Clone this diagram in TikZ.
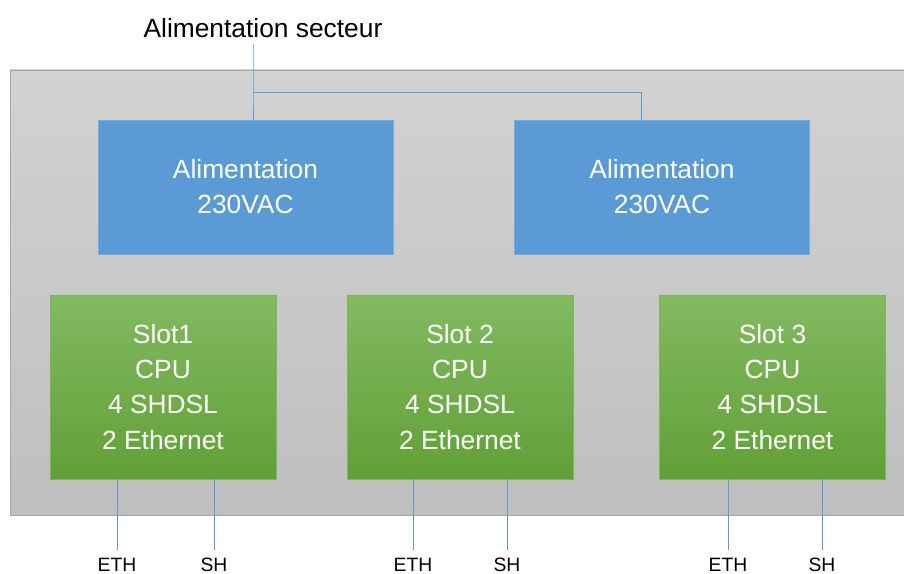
\documentclass[tikz,border=0pt]{standalone}
\usepackage{fontspec}
\setmainfont{Liberation Sans}
\usepackage{tikz}
\usetikzlibrary{positioning, calc}
\definecolor{rackgray}{RGB}{210,210,210}
\definecolor{rackgraydk}{RGB}{191,191,191}
\definecolor{rackedge}{RGB}{166,166,166}
\definecolor{psublue}{RGB}{91,155,213}
\definecolor{psuedge}{RGB}{120,172,222}
\definecolor{slotgreen}{RGB}{131,186,98}
\definecolor{slotgreendk}{RGB}{97,160,54}
\definecolor{slotedge}{RGB}{125,183,90}

\begin{document}
\begin{tikzpicture}[x=0.02cm, y=-0.02cm, font=\fontsize{15}{20}\selectfont,
  psu/.style={draw=psuedge, fill=psublue, text=white, align=center,
    minimum width=5.9cm, minimum height=2.68cm, inner sep=0pt},
  slotbox/.style={draw=slotedge, top color=slotgreen, bottom color=slotgreendk,
    text=white, align=center, minimum width=4.52cm, minimum height=3.68cm, inner sep=0pt},
  portlbl/.style={font=\fontsize{11}{12}\selectfont, inner sep=1pt},
  link/.style={draw=psublue, line width=0.5pt}]
  \useasboundingbox (0,0) rectangle (904,574);
  % rack
  \draw[rackedge, top color=rackgray, bottom color=rackgraydk] (10,70) rectangle (910,515);
  \node (sect) at (263,28) {Alimentation secteur};
  % power supplies
  \node[psu] (a1) at (245.5,187) {Alimentation\\230VAC};
  \node[psu] (a2) at (662,187) {Alimentation\\230VAC};
  \coordinate (split) at (253,92);
  \coordinate (join) at (641,92);
  \draw[link] (sect.south -| split) -- (split) -- (split |- a1.north);
  \draw[link] (split) -- (join) -- (join |- a2.north);
  % slots and their ports
  \foreach \n/\cx/\lbl/\ex/\sx in {
    1/163/Slot1/117/214,
    2/460/Slot 2/413/507,
    3/772.5/Slot 3/728/822
  }{
    \node[slotbox] (s\n) at (\cx,387) {\lbl\\CPU\\4 SHDSL\\2 Ethernet};
    \node[portlbl, anchor=north] (eth\n) at (\ex,556) {ETH};
    \node[portlbl, anchor=north] (sh\n) at (\sx,556) {SH};
    \draw[link] (s\n.south -| eth\n) -- ($(eth\n.north)+(0,-6)$);
    \draw[link] (s\n.south -| sh\n) -- ($(sh\n.north)+(0,-6)$);
  }
\end{tikzpicture}
\end{document}
